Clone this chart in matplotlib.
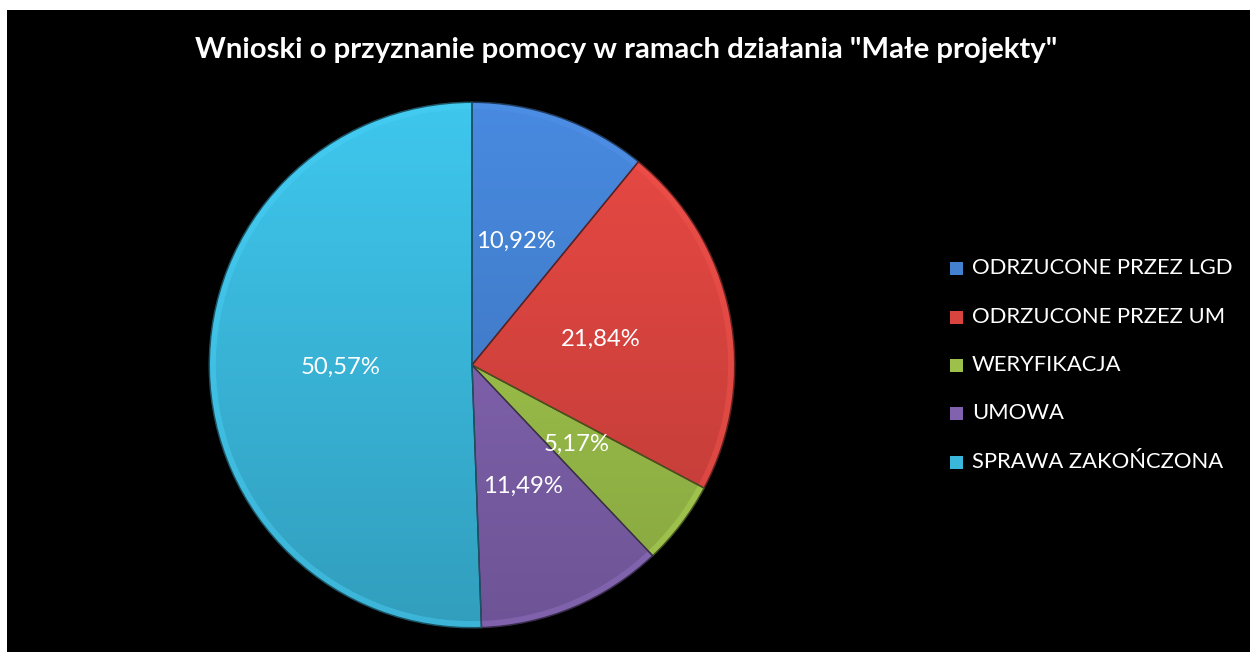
import numpy as np
import matplotlib
matplotlib.use("Agg")
import matplotlib.pyplot as plt
from matplotlib.patches import Rectangle, Wedge
from matplotlib.colors import to_rgb

# data
categories = ["ODRZUCONE PRZEZ LGD", "ODRZUCONE PRZEZ UM", "WERYFIKACJA",
              "UMOWA", "SPRAWA ZAKOŃCZONA"]
counts = [19, 38, 9, 20, 88]
colors = ["#4380d0", "#d9443f", "#9cc04a", "#8062ae", "#3ab8dc"]
title = 'Wnioski o przyznanie pomocy w ramach działania "Małe projekty"'

plt.rcParams['font.family'] = ['Lato', 'DejaVu Sans']

W, H = 1250, 652
fig = plt.figure(figsize=(W / 100, H / 100), dpi=100, facecolor="white")
fig.patches.append(Rectangle((7 / W, 0), 1 - 7 / W, 1 - 10 / H,
                             transform=fig.transFigure, facecolor="black",
                             edgecolor="none", zorder=-10))

# pie axes, center (472,365) px, radius 264 px
cx, cy, r = 472, 365, 264
ax = fig.add_axes([(cx - r) / W, (H - cy - r) / H, 2 * r / W, 2 * r / H])
ax.patch.set_visible(False)
wedges, texts, autotexts = ax.pie(
    counts, colors=colors, startangle=90, counterclock=False,
    autopct=lambda p: f"{p:.2f}%".replace(".", ","), pctdistance=0.5,
    wedgeprops=dict(linewidth=1.2, edgecolor="#1a1a1a"),
    textprops=dict(color="white", fontsize=17.2))
ax.axis("off")

# vertical shading + soft bevel rim
yy = np.linspace(1, -1, 300)[:, None] * np.ones((1, 300))
for w, col in zip(wedges, colors):
    base = np.array(to_rgb(col))
    fac = 1.08 - 0.22 * (1 - yy) / 2
    img = np.clip(base[None, None, :] * fac[:, :, None], 0, 1)
    im = ax.imshow(img, extent=[-1, 1, -1, 1], zorder=w.get_zorder() + 0.1,
                   interpolation="bilinear")
    im.set_clip_path(w)
    rim = Wedge((0, 0), 1, w.theta1, w.theta2, width=0.025,
                facecolor=np.clip(base * 1.08 + 0.04, 0, 1), edgecolor="none",
                alpha=0.45, zorder=w.get_zorder() + 0.2)
    ax.add_patch(rim)
    edge = Wedge((0, 0), 1, w.theta1, w.theta2, facecolor="none",
                 edgecolor=base * 0.45, linewidth=1.0, zorder=w.get_zorder() + 0.3)
    ax.add_patch(edge)
for t in autotexts:
    t.set_zorder(10)
ax.set_xlim(-1.005, 1.005)
ax.set_ylim(-1.005, 1.005)
ax.set_aspect("auto")

fig.text(626 / W, 1 - 50 / H, title, ha="center", va="center",
         color="white", fontsize=21.2, fontweight="bold")

# legend
ys = [268, 317, 365, 413, 462]
for lab, col, y in zip(categories, colors, ys):
    fig.patches.append(Rectangle((950 / W, 1 - (y + 7) / H), 13 / W, 13 / H,
                                 transform=fig.transFigure, facecolor=col,
                                 edgecolor="none", zorder=2))
    fig.text(972 / W, 1 - y / H, lab, ha="left", va="center",
             color="white", fontsize=15.8)

fig.savefig("out.png", dpi=100, facecolor="white")
